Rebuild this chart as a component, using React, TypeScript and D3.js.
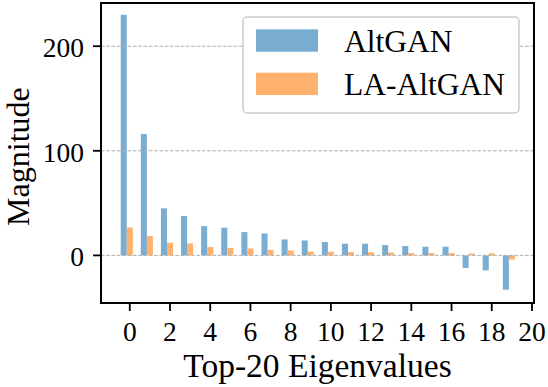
import * as d3 from "d3";

const indices = d3.range(20);
const altgan = [230, 116, 45, 37.6, 28, 26.5, 22.3, 21, 15.3, 14.3, 12.8, 11.2, 11.2, 9.9, 9, 8.3, 8.3, -12, -14.3, -32.8];
const laAltgan = [26.7, 18.5, 12.1, 11.5, 8, 7.1, 6.7, 5.2, 4.8, 3.5, 3.5, 3.2, 3, 2.7, 2.3, 2.3, 2.3, 1.9, 2, -4.1];
const xTicks = [0, 2, 4, 6, 8, 10, 12, 14, 16, 18, 20];
const yTicks = [0, 100, 200];
const seriesNames = ["AltGAN", "LA-AltGAN"];
const seriesColors = ["#79add2", "#ffb26e"];

const W = 548;
const H = 387;
const m = { left: 101, right: 534, top: 3, bottom: 303 };
const FONT = "Liberation Serif, DejaVu Serif, serif";

export default function App() {
  const x = d3.scaleLinear().domain([-1.43, 20.1]).range([m.left, m.right]);
  const y = d3.scaleLinear().domain([-45.5, 241.3]).range([m.bottom, m.top]);
  const bw = 0.3;
  const series = [altgan, laAltgan];
  const offsets = [-bw, 0];

  return (
    <svg width={W} height={H} style={{ position: "fixed", left: 0, top: 0, background: "#fff", fontFamily: FONT }}>
      <rect width={W} height={H} fill="#fff" />

      {/* bars */}
      {series.map((vals, s) =>
        indices.map((i) => {
          const x0 = x(i + offsets[s] - bw / 2);
          const x1 = x(i + offsets[s] + bw / 2);
          const v = vals[i];
          return (
            <rect
              key={`${s}-${i}`}
              x={x0}
              width={x1 - x0}
              y={Math.min(y(v), y(0))}
              height={Math.abs(y(v) - y(0))}
              fill={seriesColors[s]}
            />
          );
        })
      )}

      {/* grid */}
      {yTicks.map((t) => (
        <line
          key={t}
          x1={m.left}
          x2={m.right}
          y1={y(t)}
          y2={y(t)}
          stroke="#b0b0b0"
          strokeWidth={1}
          strokeDasharray="3.7,1.6"
        />
      ))}

      {/* frame */}
      <rect x={m.left} y={m.top} width={m.right - m.left} height={m.bottom - m.top} fill="none" stroke="#000" strokeWidth={2} />

      {/* x ticks */}
      {xTicks.map((t) => (
        <g key={t}>
          <line x1={x(t)} x2={x(t)} y1={m.bottom} y2={m.bottom + 8} stroke="#000" strokeWidth={1.8} />
          <text x={x(t)} y={341} textAnchor="middle" fontSize={27.5} fill="#000">{t}</text>
        </g>
      ))}

      {/* y ticks */}
      {yTicks.map((t) => (
        <g key={t}>
          <line x1={m.left - 8} x2={m.left} y1={y(t)} y2={y(t)} stroke="#000" strokeWidth={1.8} />
          <text x={84} y={y(t)} dy="0.4em" textAnchor="end" fontSize={27.5} fill="#000">{t}</text>
        </g>
      ))}

      {/* axis labels */}
      <text x={(m.left + m.right) / 2} y={377} textAnchor="middle" fontSize={33.5} fill="#000">Top-20 Eigenvalues</text>
      <text transform={`translate(29,156.6) rotate(-90)`} textAnchor="middle" fontSize={32} fill="#000">Magnitude</text>

      {/* legend */}
      <rect x={243} y={17} width={276} height={96} rx={4} fill="#fff" stroke="#cccccc" strokeWidth={1.5} />
      {seriesNames.map((name, s) => (
        <g key={name}>
          <rect x={256} y={29.3 + s * 43.4} width={62} height={22.4} fill={seriesColors[s]} />
          <text x={344} y={52 + s * 43} fontSize={31.5} fill="#000">{name}</text>
        </g>
      ))}
    </svg>
  );
}
